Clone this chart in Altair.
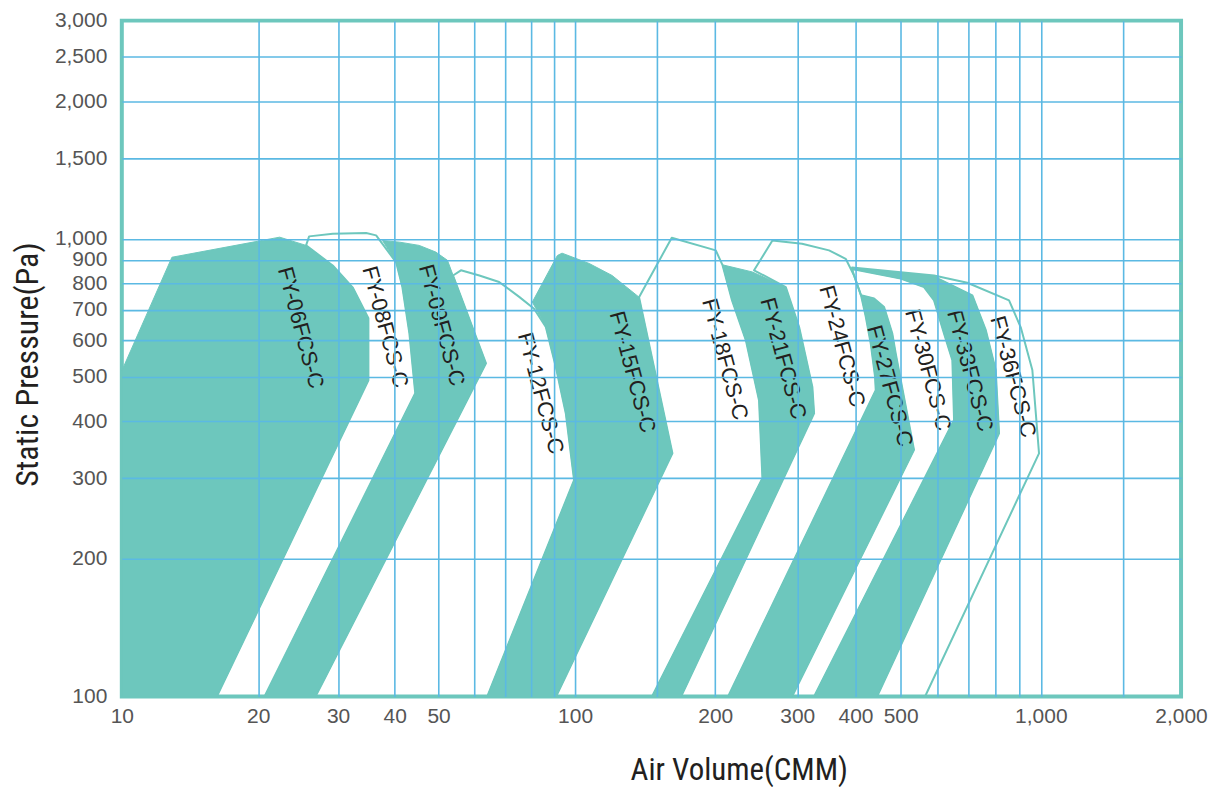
import altair as alt
import pandas as pd

# ---------------- data (air volume in CMM, static pressure in Pa) ----------------
models = ["FY-06FCS-C", "FY-08FCS-C", "FY-09FCS-C", "FY-12FCS-C", "FY-15FCS-C", "FY-18FCS-C",
          "FY-21FCS-C", "FY-24FCS-C", "FY-27FCS-C", "FY-30FCS-C", "FY-33FCS-C", "FY-36FCS-C"]
filled = [True, False, True, False, True, False, True, False, True, False, True, False]

fy06_x = [10, 10, 12.9, 22.3, 25.5, 29.2, 32.3, 35.0, 35.0, 16.2]
fy06_y = [100, 515, 912, 1009, 968, 875, 784, 671, 491, 100]

fy08_x = [16.2, 35.0, 35.0, 32.3, 29.2, 25.5, 25.9, 29.2, 34.6, 36.4, 40.3, 41.6, 43.1, 44.4, 20.65]
fy08_y = [100, 491, 671, 784, 875, 968, 1013, 1026, 1030, 1018, 889, 784, 622, 460, 100]

fy09_x = [20.65, 44.4, 43.1, 41.6, 40.3, 37.6, 41.0, 45.3, 49.3, 52.3, 63.6, 26.75]
fy09_y = [100, 460, 622, 784, 889, 992, 984, 968, 936, 898, 535, 100]

fy12_x = [26.75, 63.6, 53.8, 56.0, 61.5, 68.0, 75.3, 81.2, 86.2, 90.7, 95.4, 99.5, 64.0]
fy12_y = [100, 535, 832, 854, 832, 805, 747, 704, 642, 525, 416, 297, 100]

fy15_x = [64.0, 99.5, 95.4, 90.7, 86.2, 80.5, 91.4, 93.6, 107.2, 120.1, 137.2, 161.8, 90.8]
fy15_y = [100, 297, 416, 525, 642, 728, 920, 931, 884, 832, 746, 340, 100]

fy18_x = [90.8, 161.8, 137.2, 161.3, 200.5, 207.2, 217.3, 232.6, 248.3, 252.5, 146.3]
fy18_y = [100, 340, 746, 1006, 944, 878, 734, 601, 444, 300, 100]

fy21_x = [146.3, 252.5, 248.3, 232.6, 217.3, 207.2, 240.2, 283.4, 302.7, 323.2, 326.0, 168.9]
fy21_y = [100, 300, 444, 601, 734, 878, 847, 785, 642, 475, 416, 100]

fy24_x = [168.9, 326.0, 323.2, 302.7, 283.4, 242.3, 265.3, 307.2, 351.0, 381.1, 397.2, 411.1,
          421.0, 431.3, 440.6, 442.1, 213.1]
fy24_y = [100, 416, 475, 642, 785, 854, 992, 976, 944, 905, 832, 753, 675, 591, 500, 467, 100]

fy27_x = [213.1, 442.1, 440.6, 431.3, 421.0, 411.1, 438.5, 460.7, 479.9, 488.0, 534.2, 292.4]
fy27_y = [100, 467, 500, 591, 675, 753, 741, 710, 621, 562, 346, 100]

fy30_x = [292.4, 534.2, 488.0, 479.9, 460.7, 438.5, 411.1, 397.2, 393.3, 500.3, 561.4, 589.9,
          619.8, 645.7, 651.2, 326.0]
fy30_y = [100, 346, 562, 621, 710, 741, 753, 832, 860, 819, 785, 734, 621, 543, 402, 100]

fy33_x = [326.0, 651.2, 645.7, 619.8, 589.9, 561.4, 500.3, 393.3, 500.3, 589.9, 712.8, 761.8,
          800.1, 813.4, 445.0]
fy33_y = [100, 402, 543, 621, 734, 785, 819, 860, 841, 827, 753, 632, 517, 376, 100]

fy36_x = [445.0, 813.4, 800.1, 761.8, 712.8, 589.9, 393.3, 393.3, 589.9, 695.3, 854.6, 905.5,
          958.9, 991.1, 564.2]
fy36_y = [100, 376, 517, 632, 753, 827, 860, 866, 832, 802, 734, 641, 517, 340, 100]

label_x = [24.8, 38.1, 50.8, 84.0, 132.8, 209.7, 279.7, 374.3, 474.0, 572.5, 704.0, 871.6]
label_y = [640, 642, 648, 460, 512, 546, 548, 583, 477, 517, 515, 500]

x_grid = [10, 20, 30, 40, 50, 60, 70, 80, 90, 100, 150, 200, 300, 400, 500, 600, 700, 800, 900,
          1000, 1500, 2000]
x_labels = [10, 20, 30, 40, 50, 100, 200, 300, 400, 500, 1000, 2000]
y_grid = [100, 200, 300, 400, 500, 600, 700, 800, 900, 1000, 1500, 2000, 2500, 3000]

# ---------------- build tables ----------------
xs = [fy06_x, fy08_x, fy09_x, fy12_x, fy15_x, fy18_x, fy21_x, fy24_x, fy27_x, fy30_x, fy33_x, fy36_x]
ys = [fy06_y, fy08_y, fy09_y, fy12_y, fy15_y, fy18_y, fy21_y, fy24_y, fy27_y, fy30_y, fy33_y, fy36_y]

rows = []
for m, f, px, py in zip(models, filled, xs, ys):
    pts = list(zip(px, py)) + [(px[0], py[0])]
    for i, (a, b) in enumerate(pts):
        rows.append({"model": m, "filled": f, "i": i, "cmm": a, "pa": b})
poly = pd.DataFrame(rows)
labels = pd.DataFrame({"model": models, "cmm": label_x, "pa": label_y})

TEAL = "#6DC7BD"
GRID = "#5BB9E3"
NARROW = "Roboto Condensed, Liberation Sans Narrow, DejaVu Sans Condensed, Liberation Sans, sans-serif"

label_expr = ("indexof([" + ",".join(str(v) for v in x_labels) +
              "], datum.value) >= 0 ? format(datum.value, ',') : ''")
x_edge = "datum.value <= %s || datum.value >= %s" % (x_grid[0], x_grid[-1])
y_edge = "datum.value <= %s || datum.value >= %s" % (y_grid[0], y_grid[-1])

x_scale = alt.Scale(type="log", domain=[10, 100, 2000], range=[0, 454, 1061], nice=False)
y_scale = alt.Scale(type="log", domain=[100, 3000], nice=False)

x_axis = alt.Axis(values=x_grid, labelExpr=label_expr, grid=True, gridColor=GRID, gridWidth=1.6,
                  gridOpacity={"condition": {"test": x_edge, "value": 0}, "value": 1},
                  ticks=False, domain=False, zindex=1,
                  labelFont="Liberation Sans", labelFontSize=21, labelColor="#555555",
                  labelPadding=9, labelOverlap=False, labelFlush=False,
                  title="Air Volume(CMM)", titleFont=NARROW, titleFontSize=31,
                  titleFontWeight="normal", titleColor="#231F20", titleX=618, titleY=83,
                  titleAlign="center", titleBaseline="alphabetic")
y_axis = alt.Axis(values=y_grid, format=",", grid=True, gridColor=GRID, gridWidth=1.6,
                  gridOpacity={"condition": {"test": y_edge, "value": 0}, "value": 1},
                  ticks=False, domain=False, zindex=1,
                  labelFont="Liberation Sans", labelFontSize=21, labelColor="#555555",
                  labelPadding=15, labelOverlap=False, labelFlush=False, labelBaseline="middle",
                  title="Static Pressure(Pa)", titleFont=NARROW, titleFontSize=32,
                  titleFontWeight="normal", titleColor="#231F20", titleX=-84, titleY=344,
                  titleAlign="center", titleBaseline="alphabetic", titleAngle=270)

base = alt.Chart(poly)

outlines = base.transform_filter("!datum.filled").mark_line(
    stroke=TEAL, strokeWidth=2, clip=True, strokeJoin="round"
).encode(
    x=alt.X("cmm:Q", scale=x_scale, axis=x_axis),
    y=alt.Y("pa:Q", scale=y_scale, axis=y_axis),
    detail="model:N",
    order="i:Q",
)

fills = base.transform_filter("datum.filled").mark_line(
    fill=TEAL, stroke=TEAL, strokeWidth=1, clip=True, strokeJoin="round"
).encode(
    x=alt.X("cmm:Q", scale=x_scale),
    y=alt.Y("pa:Q", scale=y_scale),
    detail="model:N",
    order="i:Q",
)

texts = alt.Chart(labels).mark_text(
    angle=75, align="center", baseline="middle", font="Liberation Sans", fontSize=22,
    color="#231F20"
).encode(
    x=alt.X("cmm:Q", scale=x_scale),
    y=alt.Y("pa:Q", scale=y_scale),
    text="model:N",
)

chart = alt.layer(outlines, fills, texts).properties(
    width=1061, height=677,
    autosize=alt.AutoSizeParams(type="none"),
    padding={"left": 114, "top": 12, "right": 28, "bottom": 90},
).configure_view(stroke=TEAL, strokeWidth=4)

chart.save("out.html", embed_options={"renderer": "svg", "actions": False})
